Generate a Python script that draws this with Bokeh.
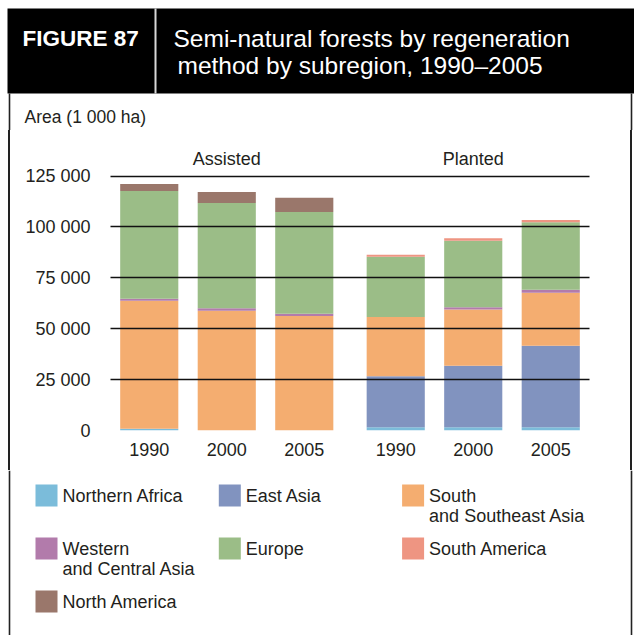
from bokeh.plotting import figure
from bokeh.layouts import column, row
from bokeh.models import FactorRange, Range1d, FixedTicker, ColumnDataSource, Spacer
from bokeh.core.properties import value
from bokeh.embed import file_html
from bokeh.resources import INLINE

# ---------------- data ----------------
groups = ["Assisted", "Planted"]
years = ["1990", "2000", "2005"]
regions = ["Northern Africa", "East Asia", "South\nand Southeast Asia",
           "Western\nand Central Asia", "Europe", "South America", "North America"]
colors = ["#7BBCDA", "#8193BF", "#F4AD70", "#B27BAB", "#9BBD87", "#EE9582", "#9A776B"]

# order: Assisted 1990, 2000, 2005, Planted 1990, 2000, 2005  (1 000 ha)
northern_africa = [800, 0, 0, 1600, 1600, 1600]
east_asia = [0, 0, 0, 25100, 30200, 40000]
south_southeast_asia = [62900, 58800, 56200, 29000, 27700, 26100]
western_central_asia = [1000, 1200, 1100, 0, 1100, 1400]
europe = [52900, 51800, 50000, 29700, 32600, 33200]
south_america = [0, 0, 0, 900, 1300, 1100]
north_america = [3500, 5400, 7000, 0, 0, 0]

y_ticks = [0, 25000, 50000, 75000, 100000, 125000]
y_tick_labels = ["0", "25 000", "50 000", "75 000", "100 000", "125 000"]

figure_label = "FIGURE 87"
title_lines = ["Semi-natural forests by regeneration", "method by subregion, 1990\u20132005"]
unit_label = "Area (1 000 ha)"

FONT = "Liberation Sans"
TXT = "#231F20"
BORDER = "#222222"


def blank(width, height, xr, yr):
    f = figure(width=width, height=height, output_backend="svg", toolbar_location=None,
               x_range=xr, y_range=yr, x_axis_location=None, y_axis_location=None,
               min_border=0, min_border_left=0, min_border_right=0,
               min_border_top=0, min_border_bottom=0)
    f.outline_line_color = None
    f.grid.visible = False
    f.background_fill_color = "white"
    f.border_fill_color = "white"
    return f


# ---------------- header (page pixels) ----------------
head = blank(634, 130, Range1d(0, 634), Range1d(130, 0))
head.quad(left=[7], right=[634], top=[8], bottom=[93], fill_color="black", line_color=None)
head.segment(x0=[155], y0=[8], x1=[155], y1=[93], line_color="#D8D8D8", line_width=2)
head.segment(x0=[9, 631], y0=[93, 93], x1=[9, 631], y1=[130, 130],
             line_color=BORDER, line_width=1.6)
head.text(x=[22], y=[38], text=[figure_label], text_font=value(FONT),
          text_font_size="22.5px", text_font_style="bold", text_color="white",
          text_baseline="middle")
head.text(x=[173, 177], y=[38, 65], text=title_lines, text_font=value(FONT),
          text_font_size="24.5px", text_color="white", text_baseline="middle")
head.text(x=[24], y=[116], text=[unit_label], text_font=value(FONT),
          text_font_size="17.5px", text_color=TXT, text_baseline="middle")

# ---------------- chart ----------------
factors = [(g, y) for g in groups for y in years]
series = [northern_africa, east_asia, south_southeast_asia, western_central_asia,
          europe, south_america, north_america]
keys = ["na", "ea", "ssea", "wca", "eu", "sam", "nam"]
data = {"x": factors}
for k, s in zip(keys, series):
    data[k] = s
source = ColumnDataSource(data)

p = figure(width=610, height=340, output_backend="svg", toolbar_location=None,
           x_range=FactorRange(*factors, range_padding=0, factor_padding=0, group_padding=0.18),
           y_range=Range1d(0, 140000),
           min_border_left=98, min_border_right=33, min_border_top=15, min_border_bottom=40)
p.outline_line_color = None
p.background_fill_color = "white"
p.border_fill_color = "white"

p.vbar_stack(keys, x="x", width=0.75, source=source, fill_color=colors, line_color=None)

# group labels above the bars
p.text(x=[(g, years[1]) for g in groups], y=[133600] * len(groups),
       text=groups, text_align="center", text_baseline="middle",
       text_font=value(FONT), text_font_size="18px", text_color=TXT)

p.yaxis.ticker = FixedTicker(ticks=y_ticks)
p.yaxis.major_label_overrides = {t: l for t, l in zip(y_ticks, y_tick_labels)}
p.yaxis.axis_line_color = None
p.yaxis.major_tick_line_color = None
p.yaxis.minor_tick_line_color = None
p.yaxis.major_tick_out = 0
p.yaxis.minor_tick_out = 0
p.yaxis.major_label_standoff = 20
p.yaxis.major_label_text_font = FONT
p.yaxis.major_label_text_font_size = "18px"
p.yaxis.major_label_text_color = TXT

p.xaxis.axis_line_color = None
p.xaxis.major_tick_line_color = None
p.xaxis.minor_tick_line_color = None
p.xaxis.major_tick_out = 0
p.xaxis.minor_tick_out = 0
p.xaxis.major_label_standoff = 12
p.xaxis.major_label_text_font = FONT
p.xaxis.major_label_text_font_size = "18px"
p.xaxis.major_label_text_color = TXT
p.xaxis.group_text_alpha = 0
p.xaxis.group_text_font_size = "1px"
p.xaxis.separator_line_alpha = 0

p.xgrid.visible = False
p.ygrid.ticker = FixedTicker(ticks=y_ticks)
p.ygrid.grid_line_color = "#111111"
p.ygrid.grid_line_width = 1.3
p.ygrid.level = "guide"

# ---------------- side borders beside the chart ----------------
def gap(w):
    return Spacer(width=w, height=340)

def rule(w):
    return Spacer(width=w, height=340, styles={"background-color": BORDER})

chart_row = row(gap(8), rule(2), gap(2), p, gap(8), rule(2), gap(2))

# ---------------- legend (page pixels) ----------------
leg = blank(634, 165, Range1d(0, 634), Range1d(635, 470))
leg.segment(x0=[9, 631], y0=[470, 470], x1=[9, 631], y1=[635, 635],
            line_color=BORDER, line_width=1.6)
n = len(regions)
cols = [i % 3 for i in range(n)]
rows_ = [i // 3 for i in range(n)]
sw_x = [46 + c * 183.3 for c in cols]          # swatch centres
sw_y = [495 + r * 53 for r in rows_]
leg.rect(x=sw_x, y=sw_y, width=22, height=22, fill_color=colors, line_color=None)
leg.text(x=[x + 16 for x in sw_x], y=[y - 10 for y in sw_y], text=regions,
         text_font=value(FONT), text_font_size="18px", text_color=TXT,
         text_baseline="top", text_line_height=1.03)

layout = column(head, chart_row, leg)
open("out.html", "w").write(file_html(layout, INLINE))
